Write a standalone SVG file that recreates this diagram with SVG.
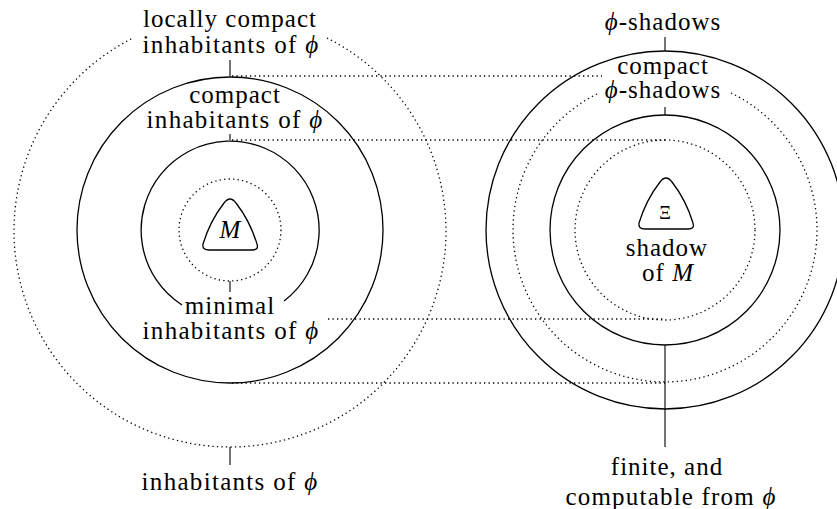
<svg xmlns="http://www.w3.org/2000/svg" width="837" height="509" viewBox="0 0 837 509">
<defs>
<path id="tri" d="M224,203 Q230,195 236,203 Q250,221 257,244 Q259,250 252,250 L209,250 Q202,250 203,244 Q210,221 224,203 Z" fill="none" stroke="#000" stroke-width="1.3"/>
</defs>
<g id="connectors" fill="none" stroke="#000">
<g stroke-width="1.3" stroke-dasharray="1.3 3.2">
<path d="M232,76 H602"/>
<path d="M232,140 H665"/>
<path d="M328,319 H665"/>
<path d="M232,383 H665"/>
</g>
<g stroke-width="1.1">
<path d="M230,60 V76"/>
<path d="M230,134 V140"/>
<path d="M230,281 V292"/>
<path d="M230,447 V465"/>
<path d="M665,37 V51"/>
<path d="M665,107 V115"/>
<path d="M665,345 V447"/>
</g>
</g>
<g id="inhabitants">
<path d="M327,38 A216,216 0 1 1 133,38" fill="none" stroke="#000" stroke-width="1.3" stroke-dasharray="1.3 3.2"/>
<text x="230" y="27" font-family="Liberation Serif, Times New Roman, serif" font-size="25" letter-spacing="1" text-anchor="middle">locally compact</text>
<text x="231" y="53" font-family="Liberation Serif, Times New Roman, serif" font-size="25" letter-spacing="1.3" text-anchor="middle">inhabitants of <tspan font-style="italic">ϕ</tspan></text>
<text x="230" y="490" font-family="Liberation Serif, Times New Roman, serif" font-size="25" letter-spacing="1.3" text-anchor="middle">inhabitants of <tspan font-style="italic">ϕ</tspan></text>
</g>
<g id="locally-compact">
<circle cx="230" cy="230" r="153" fill="none" stroke="#000" stroke-width="1.3"/>
<text x="235" y="103" font-family="Liberation Serif, Times New Roman, serif" font-size="25" letter-spacing="1" text-anchor="middle">compact</text>
<text x="235" y="128" font-family="Liberation Serif, Times New Roman, serif" font-size="25" letter-spacing="1.3" text-anchor="middle">inhabitants of <tspan font-style="italic">ϕ</tspan></text>
</g>
<g id="compact">
<path d="M284,301 A89,89 0 1 0 182,305" fill="none" stroke="#000" stroke-width="1.3"/>
<text x="230" y="314" font-family="Liberation Serif, Times New Roman, serif" font-size="25" letter-spacing="1" text-anchor="middle">minimal</text>
<text x="231" y="339" font-family="Liberation Serif, Times New Roman, serif" font-size="25" letter-spacing="1.3" text-anchor="middle">inhabitants of <tspan font-style="italic">ϕ</tspan></text>
</g>
<g id="minimal">
<circle cx="230" cy="230" r="51" fill="none" stroke="#000" stroke-width="1.3" stroke-dasharray="1.3 3.2"/>
</g>
<g id="M">
<use href="#tri"/>
<text x="230" y="238" font-family="Liberation Serif, Times New Roman, serif" font-size="25" font-style="italic" text-anchor="middle">M</text>
</g>
<g id="shadows">
<circle cx="665" cy="230" r="179" fill="none" stroke="#000" stroke-width="1.3"/>
<text x="663" y="30" font-family="Liberation Serif, Times New Roman, serif" font-size="25" letter-spacing="1" text-anchor="middle"><tspan font-style="italic">ϕ</tspan>-shadows</text>
</g>
<g id="compact-shadows">
<path d="M731,93 A152,152 0 1 1 599,93" fill="none" stroke="#000" stroke-width="1.3" stroke-dasharray="1.3 3.2"/>
<text x="663" y="74" font-family="Liberation Serif, Times New Roman, serif" font-size="25" letter-spacing="1" text-anchor="middle">compact</text>
<text x="663" y="98" font-family="Liberation Serif, Times New Roman, serif" font-size="25" letter-spacing="1" text-anchor="middle"><tspan font-style="italic">ϕ</tspan>-shadows</text>
</g>
<g id="finite-shadows">
<circle cx="665" cy="230" r="115" fill="none" stroke="#000" stroke-width="1.3"/>
<text x="667" y="475" font-family="Liberation Serif, Times New Roman, serif" font-size="25" letter-spacing="1" text-anchor="middle">finite, and</text>
<text x="671" y="505" font-family="Liberation Serif, Times New Roman, serif" font-size="25" letter-spacing="1.2" text-anchor="middle">computable from <tspan font-style="italic">ϕ</tspan></text>
</g>
<g id="inner-shadows">
<circle cx="665" cy="230" r="90" fill="none" stroke="#000" stroke-width="1.3" stroke-dasharray="1.3 3.2"/>
</g>
<g id="Xi">
<use href="#tri" transform="translate(436,-21)"/>
<text x="665" y="219" font-family="Liberation Serif, Times New Roman, serif" font-size="18" text-anchor="middle">Ξ</text>
<text x="667" y="256" font-family="Liberation Serif, Times New Roman, serif" font-size="25" letter-spacing="1" text-anchor="middle">shadow</text>
<text x="668" y="281" font-family="Liberation Serif, Times New Roman, serif" font-size="25" letter-spacing="1" text-anchor="middle">of <tspan font-style="italic">M</tspan></text>
</g>
</svg>
